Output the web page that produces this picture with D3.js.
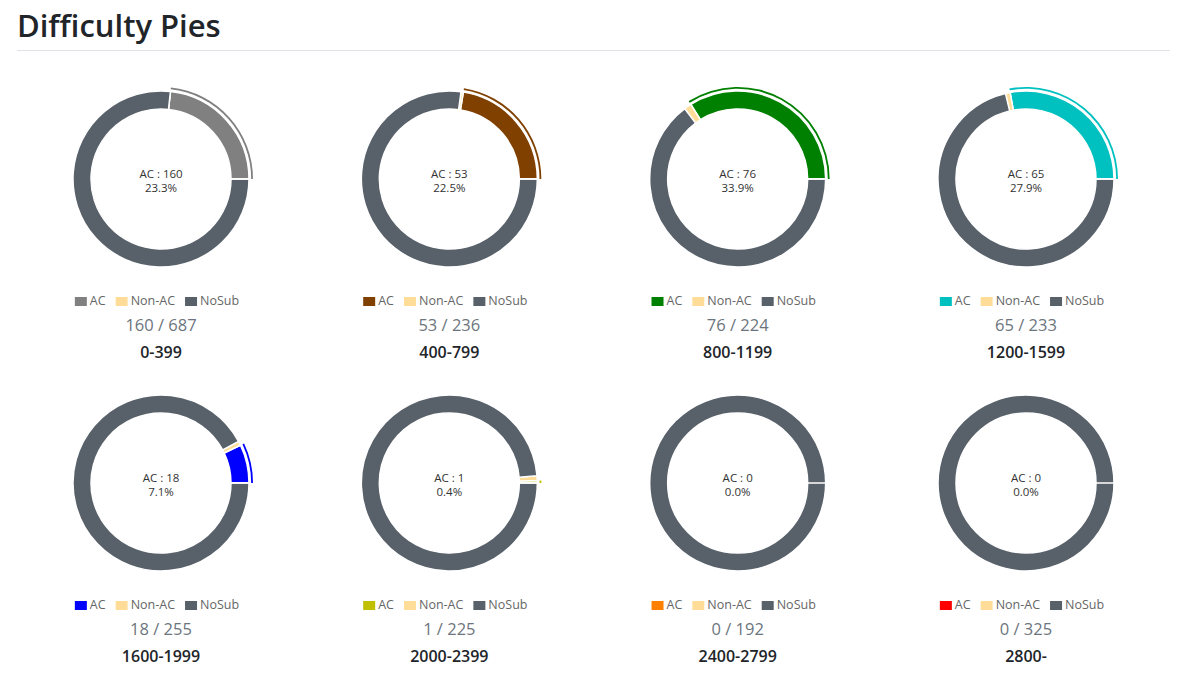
<!DOCTYPE html>
<html>
<head>
<meta charset="utf-8">
<script src="https://cdn.jsdelivr.net/npm/d3@7/dist/d3.min.js"></script>
<style>
  html, body { margin: 0; padding: 0; background: #fff; }
  svg { display: block; font-family: "Open Sans", "Noto Sans", sans-serif; }
</style>
</head>
<body>
<svg id="chart" width="1190" height="679"></svg>
<script>
const ranges = ["0-399", "400-799", "800-1199", "1200-1599", "1600-1999", "2000-2399", "2400-2799", "2800-"];
const acCounts = [160, 53, 76, 65, 18, 1, 0, 0];
const nonAcCounts = [0, 1, 3, 2, 2, 2, 0, 0];
const totals = [687, 236, 224, 233, 255, 225, 192, 325];
const acColors = ["#808080", "#804000", "#008000", "#00C0C0", "#0000FF", "#C0C000", "#FF8000", "#FF0000"];
const legendLabels = ["AC", "Non-AC", "NoSub"];
const nonAcColor = "#FFDD99";
const noSubColor = "#58616A";

const svg = d3.select("#chart");

// Title
svg.append("text")
  .attr("x", 17).attr("y", 37)
  .attr("font-size", 31).attr("font-weight", 600)
  .attr("fill", "#212529")
  .text("Difficulty Pies");
svg.append("line")
  .attr("x1", 17).attr("x2", 1170).attr("y1", 50.5).attr("y2", 50.5)
  .attr("stroke", "#dee2e6").attr("stroke-width", 1);

const colX = d3.scalePoint().domain([0, 1, 2, 3]).range([161, 1026]);
const rowY = d3.scalePoint().domain([0, 1]).range([179, 483]);

const R = 88, r = 70;
const arc = d3.arc().innerRadius(r).outerRadius(R);
const hoverArc = d3.arc().innerRadius(R + 2.2).outerRadius(R + 4);
const pie = d3.pie().sort(null).value(d => d.v)
  .startAngle(Math.PI / 2).endAngle(Math.PI / 2 - 2 * Math.PI);

ranges.forEach((label, i) => {
  const cx = colX(i % 4), cy = rowY(Math.floor(i / 4));
  const data = [
    { k: "AC", v: acCounts[i], c: acColors[i] },
    { k: "Non-AC", v: nonAcCounts[i], c: nonAcColor },
    { k: "NoSub", v: totals[i] - acCounts[i] - nonAcCounts[i], c: noSubColor }
  ];
  const arcs = pie(data);
  const g = svg.append("g").attr("transform", `translate(${cx},${cy})`);
  g.selectAll("path.slice").data(arcs).join("path")
    .attr("class", "slice")
    .attr("d", arc)
    .attr("fill", d => d.data.c)
    .attr("stroke", "#fff").attr("stroke-width", 1.5);
  // slice boundary at the start angle (visible even when AC is zero)
  g.append("line").attr("x1", r).attr("x2", R).attr("y1", 0).attr("y2", 0)
    .attr("stroke", "#fff").attr("stroke-width", 1.5);
  // highlighted AC slice outline
  if (acCounts[i] > 0) {
    g.append("path").attr("d", hoverArc(arcs[0])).attr("fill", acColors[i]);
  }
  // center texts
  g.append("text").attr("text-anchor", "middle").attr("y", -1)
    .attr("font-size", 11.5).attr("fill", "#333")
    .text(`AC : ${acCounts[i]}`);
  g.append("text").attr("text-anchor", "middle").attr("y", 13)
    .attr("font-size", 11.5).attr("fill", "#333")
    .text(`${(acCounts[i] / totals[i] * 100).toFixed(1)}%`);

  // legend
  const lg = svg.append("g");
  let x = 0;
  const colors = [acColors[i], nonAcColor, noSubColor];
  legendLabels.forEach((t, j) => {
    lg.append("rect").attr("x", x).attr("y", -8).attr("width", 12).attr("height", 9)
      .attr("fill", colors[j]);
    const tx = lg.append("text").attr("x", x + 15).attr("y", 0)
      .attr("font-size", 12.5).attr("fill", "#666").text(t);
    x += 15 + tx.node().getComputedTextLength() + 10;
  });
  const w = x - 10;
  lg.attr("transform", `translate(${cx - 4 - w / 2},${cy + 126})`);

  svg.append("text").attr("x", cx).attr("y", cy + 152).attr("text-anchor", "middle")
    .attr("font-size", 16.5).attr("fill", "#6c757d")
    .text(`${acCounts[i]} / ${totals[i]}`);
  svg.append("text").attr("x", cx).attr("y", cy + 179).attr("text-anchor", "middle")
    .attr("font-size", 16).attr("font-weight", 600).attr("fill", "#212529")
    .text(label);
});
</script>
</body>
</html>
